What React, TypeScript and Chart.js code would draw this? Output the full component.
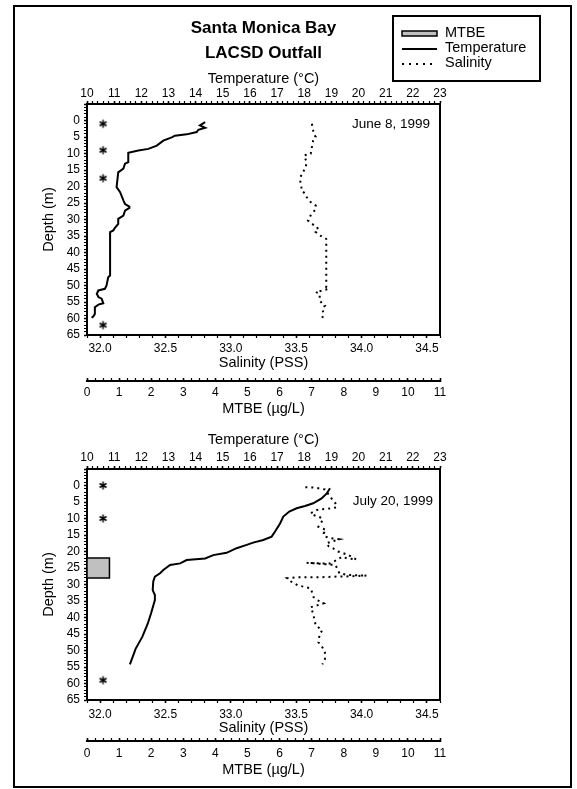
import React, { useEffect, useRef } from 'react';
import { Chart, registerables } from 'chart.js';

Chart.register(...registerables);

const FONT = "'Liberation Sans', Arial, Helvetica, sans-serif";
Chart.defaults.font.family = FONT;
Chart.defaults.color = '#000';

// ---------- axis ranges / tick steps ----------
const temperatureRange = [10, 23];
const salinityRange = [31.9, 34.6];
const mtbeRange = [0, 11];
const depthRange = [-5, 65];

const headerLines = ['Santa Monica Bay', 'LACSD Outfall'];
const legendLabels = ['MTBE', 'Temperature', 'Salinity'];

// ---------- June 8, 1999 ----------
const juneTempDepth = [0.5, 1.5, 2.2, 2.8, 3.5, 4.2, 4.6, 5.1, 6.1, 7.6, 8.6, 9.1, 9.8, 12.6, 13.1, 14.6, 15.7, 20.2, 21.7, 24.2, 25.3, 26.1, 26.5, 27.3, 28.8, 29.8, 31.3, 32.5, 33.3, 33.8, 47.0, 47.5, 50.0, 51.0, 51.5, 52.5, 53.5, 54.0, 55.4, 55.8, 56.6, 58.6, 59.4, 59.8];
const juneTemp = [14.35, 14.16, 14.35, 14.10, 14.04, 13.67, 13.24, 13.12, 12.81, 12.57, 12.26, 11.89, 11.52, 11.52, 11.40, 11.34, 11.15, 11.09, 11.22, 11.34, 11.40, 11.56, 11.56, 11.40, 11.34, 11.15, 11.15, 11.03, 10.97, 10.85, 10.85, 10.78, 10.72, 10.66, 10.42, 10.36, 10.42, 10.54, 10.60, 10.42, 10.29, 10.29, 10.23, 10.17];
const juneSalDepth = [1.0, 3.0, 4.5, 5.0, 5.6, 6.1, 8.1, 8.9, 10.1, 10.6, 11.6, 12.6, 14.6, 16.2, 18.2, 20.2, 21.2, 22.2, 23.2, 24.7, 25.8, 26.8, 27.8, 28.8, 30.3, 31.3, 32.3, 33.3, 33.8, 34.8, 35.9, 50.5, 51.0, 52.0, 52.5, 54.5, 55.6, 56.1, 57.1, 58.6, 59.8];
const juneSal = [33.62, 33.63, 33.64, 33.65, 33.64, 33.63, 33.62, 33.62, 33.61, 33.56, 33.57, 33.58, 33.57, 33.54, 33.53, 33.54, 33.54, 33.57, 33.58, 33.61, 33.65, 33.65, 33.63, 33.61, 33.59, 33.62, 33.66, 33.67, 33.65, 33.68, 33.73, 33.73, 33.75, 33.65, 33.68, 33.68, 33.70, 33.72, 33.70, 33.71, 33.70];
const juneNotDetectedDepth = [1, 9, 17.5, 62];

// ---------- July 20, 1999 ----------
const julyTempDepth = [0.85, 2.4, 3.9, 5.4, 6.2, 6.9, 7.9, 9.4, 11.5, 14.0, 15.5, 16.5, 17.3, 18.0, 19.0, 20.4, 21.1, 22.1, 22.6, 23.6, 24.1, 25.6, 26.6, 27.6, 29.1, 31.7, 33.2, 34.7, 38.7, 41.8, 45.8, 49.5, 54.2];
const julyTemp = [18.95, 18.83, 18.64, 18.33, 18.03, 17.72, 17.45, 17.23, 17.11, 16.92, 16.80, 16.49, 16.12, 15.88, 15.51, 15.14, 14.65, 14.35, 13.67, 13.43, 13.06, 12.81, 12.69, 12.50, 12.44, 12.42, 12.50, 12.50, 12.36, 12.24, 12.04, 11.79, 11.58];
const julySalDepth = [0.5, 0.6, 0.9, 1.2, 3.4, 4.4, 5.4, 6.6, 6.9, 7.2, 7.4, 8.4, 8.9, 9.9, 10.7, 12.5, 13.5, 14.5, 15.5, 16.0, 16.3, 17.5, 18.5, 19.0, 20.0, 20.5, 21.1, 22.4, 22.1, 21.6, 22.6, 23.6, 23.6, 23.4, 24.1, 25.6, 26.6, 27.1, 27.3, 27.6, 27.6, 27.8, 27.8, 28.1, 29.1, 30.2, 30.7, 31.2, 32.2, 33.7, 34.7, 35.7, 36.9, 38.8, 40.8, 42.4, 43.9, 44.9, 47.5, 49.0, 50.6, 52.6, 54.2];
const julySal = [33.57, 33.63, 33.68, 33.72, 33.76, 33.78, 33.80, 33.81, 33.77, 33.70, 33.66, 33.61, 33.63, 33.70, 33.70, 33.67, 33.73, 33.71, 33.72, 33.77, 33.83, 33.73, 33.75, 33.78, 33.82, 33.86, 33.90, 33.96, 33.89, 33.85, 33.81, 33.76, 33.68, 33.58, 33.80, 33.82, 33.83, 33.89, 34.04, 33.86, 33.81, 33.68, 33.51, 33.43, 33.46, 33.51, 33.56, 33.61, 33.62, 33.63, 33.66, 33.71, 33.61, 33.63, 33.64, 33.65, 33.70, 33.68, 33.67, 33.70, 33.72, 33.72, 33.70];
const julyNotDetectedDepth = [0, 10, 59];
const julyMtbeDepthTop = 22;
const julyMtbeDepthBottom = 28;
const julyMtbeValue = 0.7;

const notDetectedMarkerValue = 0.5; // MTBE axis position of "not detected" asterisks

const MTBE_FILL = '#c0c0c0';

function isMultiple(v: number, step: number) {
  const r = v / step;
  return Math.abs(r - Math.round(r)) < 1e-6;
}

function zip(xs: number[], ys: number[]) {
  return xs.map((x, i) => ({ x, y: ys[i] }));
}

function makeAsterisk() {
  const c = document.createElement('canvas');
  c.width = 11;
  c.height = 11;
  const g = c.getContext('2d')!;
  g.strokeStyle = '#000';
  g.lineWidth = 1.5;
  const cx = 5.5, cy = 5.5, r = 4;
  for (let i = 0; i < 3; i++) {
    const a = Math.PI / 2 + (i * Math.PI) / 3;
    g.beginPath();
    g.moveTo(cx + r * Math.cos(a), cy + r * Math.sin(a));
    g.lineTo(cx - r * Math.cos(a), cy - r * Math.sin(a));
    g.stroke();
  }
  return c;
}

type Layout = {
  height: number;
  top: number;
  xTHeight: number;
  xTTitlePadTop: number;
  xTTickPad: number;
  xSHeight: number;
  xSTickPad: number;
  xSTitlePadBottom: number;
  xMHeight: number;
  xMTickPad: number;
  xMTitlePadBottom: number;
};

type PanelSpec = {
  tempDepth: number[];
  temp: number[];
  salDepth: number[];
  sal: number[];
  ndDepth: number[];
  mtbe?: { top: number; bottom: number; value: number };
  date: string;
  dateTemp: number;
  dateDepth: number;
  header: boolean;
  layout: Layout;
};

const TICK_FONT = { size: 12 };
const TITLE_FONT = { size: 14.5 };

function gridFor(step: number, tickLength = 3) {
  return {
    display: true,
    drawOnChartArea: false,
    drawTicks: true,
    tickLength,
    tickColor: '#000',
    tickWidth: (ctx: any) => (ctx.tick && isMultiple(ctx.tick.value, step) ? 1.6 : 1.2),
  };
}
const BORDER = { display: true, color: '#000', width: 2 };

function buildConfig(spec: PanelSpec, asterisk: HTMLCanvasElement) {
  const L = spec.layout;
  const datasets: any[] = [
    {
      label: 'Temperature',
      data: zip(spec.temp, spec.tempDepth),
      xAxisID: 'xT',
      yAxisID: 'y',
      showLine: true,
      borderColor: '#000',
      borderWidth: 2,
      pointRadius: 0,
      fill: false,
    },
    {
      label: 'Salinity',
      data: zip(spec.sal, spec.salDepth),
      xAxisID: 'xS',
      yAxisID: 'y',
      showLine: true,
      borderColor: '#000',
      borderWidth: 2,
      borderDash: [2, 4],
      pointRadius: 0,
      fill: false,
    },
  ];
  if (spec.mtbe) {
    const m = spec.mtbe;
    datasets.push({
      label: 'MTBE',
      data: [
        { x: mtbeRange[0], y: m.top },
        { x: m.value, y: m.top },
        { x: m.value, y: m.bottom },
        { x: mtbeRange[0], y: m.bottom },
        { x: mtbeRange[0], y: m.top },
      ],
      xAxisID: 'xM',
      yAxisID: 'y',
      showLine: true,
      borderColor: '#000',
      borderWidth: 1.5,
      backgroundColor: MTBE_FILL,
      fill: 'shape',
      pointRadius: 0,
      clip: 3,
    });
  }
  datasets.push({
    label: 'not detected',
    data: spec.ndDepth.map((d) => ({ x: notDetectedMarkerValue, y: d })),
    xAxisID: 'xM',
    yAxisID: 'y',
    showLine: false,
    pointStyle: asterisk,
    pointRadius: 5,
    clip: 8,
  });

  const datePlugin = {
    id: 'dateLabel',
    afterDatasetsDraw(chart: any) {
      const { ctx, scales } = chart;
      const x = scales.xT.getPixelForValue(spec.dateTemp);
      const y = scales.y.getPixelForValue(spec.dateDepth);
      ctx.save();
      ctx.font = `13.5px ${FONT}`;
      ctx.fillStyle = '#000';
      ctx.textAlign = 'right';
      ctx.textBaseline = 'middle';
      ctx.fillText(spec.date, x, y);
      ctx.restore();
    },
  };

  const legendPlugin = {
    id: 'boxLegend',
    afterDraw(chart: any) {
      if (!spec.header) return;
      const ctx = chart.ctx;
      ctx.save();
      ctx.strokeStyle = '#000';
      ctx.lineWidth = 2;
      ctx.strokeRect(393, 16, 147, 65);
      // MTBE swatch
      ctx.fillStyle = MTBE_FILL;
      ctx.fillRect(402, 31, 35, 5);
      ctx.lineWidth = 1.5;
      ctx.strokeRect(402, 31, 35, 5);
      // temperature swatch
      ctx.lineWidth = 2;
      ctx.beginPath();
      ctx.moveTo(402, 49);
      ctx.lineTo(437, 49);
      ctx.stroke();
      // salinity swatch
      ctx.setLineDash([2, 5]);
      ctx.beginPath();
      ctx.moveTo(402, 64);
      ctx.lineTo(437, 64);
      ctx.stroke();
      ctx.setLineDash([]);
      ctx.font = `14.5px ${FONT}`;
      ctx.fillStyle = '#000';
      ctx.textAlign = 'left';
      ctx.textBaseline = 'middle';
      ctx.fillText(legendLabels[0], 445, 33);
      ctx.fillText(legendLabels[1], 445, 48);
      ctx.fillText(legendLabels[2], 445, 63);
      ctx.restore();
    },
  };

  return {
    type: 'scatter',
    data: { datasets },
    plugins: [datePlugin, legendPlugin],
    options: {
      animation: false,
      responsive: false,
      devicePixelRatio: 1,
      events: [],
      layout: { padding: { left: 0, right: 137, top: 0, bottom: 0 } },
      plugins: {
        legend: { display: false },
        tooltip: { enabled: false },
        title: {
          display: spec.header,
          text: headerLines,
          fullSize: false,
          color: '#000',
          font: { size: 17, weight: 'bold', lineHeight: 25 / 17 },
          padding: { top: 15.5, bottom: 0 },
        },
      },
      scales: {
        y: {
          type: 'linear',
          position: 'left',
          reverse: true,
          min: depthRange[0],
          max: depthRange[1],
          afterFit: (s: any) => {
            s.width = 87;
          },
          ticks: {
            stepSize: 1,
            autoSkip: false,
            maxTicksLimit: 1000,
            padding: 4,
            font: TICK_FONT,
            color: '#000',
            callback: (v: number) => (v >= 0 && isMultiple(v, 5) ? String(Math.round(v)) : ''),
          },
          grid: gridFor(5),
          border: BORDER,
          title: { display: true, text: 'Depth (m)', font: TITLE_FONT, color: '#000', padding: { top: 40.3, bottom: 0 } },
        },
        yR: {
          type: 'linear',
          position: 'right',
          display: true,
          min: 0,
          max: 1,
          afterFit: (s: any) => {
            s.width = 0;
          },
          ticks: { display: false },
          grid: { display: true, drawOnChartArea: false, drawTicks: false },
          border: BORDER,
        },
        xT: {
          type: 'linear',
          position: 'top',
          min: temperatureRange[0],
          max: temperatureRange[1],
          afterFit: (s: any) => {
            s.height = L.xTHeight;
          },
          ticks: {
            stepSize: 0.2,
            autoSkip: false,
            maxTicksLimit: 1000,
            maxRotation: 0,
            minRotation: 0,
            padding: L.xTTickPad,
            font: TICK_FONT,
            color: '#000',
            callback: (v: number) => (isMultiple(v, 1) ? String(Math.round(v)) : ''),
          },
          grid: gridFor(1),
          border: BORDER,
          title: { display: true, text: 'Temperature (°C)', font: TITLE_FONT, color: '#000', padding: { top: L.xTTitlePadTop, bottom: 0 } },
        },
        xS: {
          type: 'linear',
          position: 'bottom',
          weight: 0,
          min: salinityRange[0],
          max: salinityRange[1],
          afterFit: (s: any) => {
            s.height = L.xSHeight;
          },
          ticks: {
            stepSize: 0.1,
            autoSkip: false,
            maxTicksLimit: 1000,
            maxRotation: 0,
            minRotation: 0,
            padding: L.xSTickPad,
            font: TICK_FONT,
            color: '#000',
            callback: (v: number) => (isMultiple(v, 0.5) ? v.toFixed(1) : ''),
          },
          grid: gridFor(0.5),
          border: BORDER,
          title: { display: true, text: 'Salinity (PSS)', font: TITLE_FONT, color: '#000', padding: { top: 0, bottom: L.xSTitlePadBottom } },
        },
        xM: {
          type: 'linear',
          position: 'bottom',
          weight: 1,
          min: mtbeRange[0],
          max: mtbeRange[1],
          afterFit: (s: any) => {
            s.height = L.xMHeight;
          },
          ticks: {
            stepSize: 0.25,
            autoSkip: false,
            maxTicksLimit: 1000,
            maxRotation: 0,
            minRotation: 0,
            padding: L.xMTickPad + 6,
            font: TICK_FONT,
            color: '#000',
            callback: (v: number) => (isMultiple(v, 1) ? String(Math.round(v)) : ''),
          },
          // ruler-style axis: tick marks stand up from the line
          grid: gridFor(1, -3),
          border: BORDER,
          title: { display: true, text: 'MTBE (µg/L)', font: TITLE_FONT, color: '#000', padding: { top: 0, bottom: L.xMTitlePadBottom } },
        },
      },
    },
  };
}

const panelJune: PanelSpec = {
  tempDepth: juneTempDepth,
  temp: juneTemp,
  salDepth: juneSalDepth,
  sal: juneSal,
  ndDepth: juneNotDetectedDepth,
  date: 'June 8, 1999',
  dateTemp: 22.63,
  dateDepth: 1.0,
  header: true,
  layout: {
    height: 430,
    top: 0,
    xTHeight: 38.5,
    xTTitlePadTop: 5.1,
    xTTickPad: 0,
    xSHeight: 46,
    xSTickPad: 3.3,
    xSTitlePadBottom: 9.1,
    xMHeight: 49,
    xMTickPad: 1.8,
    xMTitlePadBottom: 12.6,
  },
};

const panelJuly: PanelSpec = {
  tempDepth: julyTempDepth,
  temp: julyTemp,
  salDepth: julySalDepth,
  sal: julySal,
  ndDepth: julyNotDetectedDepth,
  mtbe: { top: julyMtbeDepthTop, bottom: julyMtbeDepthBottom, value: julyMtbeValue },
  date: 'July 20, 1999',
  dateTemp: 22.74,
  dateDepth: 4.9,
  header: false,
  layout: {
    height: 359,
    top: 430,
    xTHeight: 39,
    xTTitlePadTop: 1.6,
    xTTickPad: 0.8,
    xSHeight: 41,
    xSTickPad: 4.8,
    xSTitlePadBottom: 4.6,
    xMHeight: 48,
    xMTickPad: 2.3,
    xMTitlePadBottom: 10.6,
  },
};

function Panel({ spec }: { spec: PanelSpec }) {
  const ref = useRef<HTMLCanvasElement>(null);
  useEffect(() => {
    const chart = new Chart(ref.current as HTMLCanvasElement, buildConfig(spec, makeAsterisk()) as any);
    return () => chart.destroy();
  }, [spec]);
  return (
    <canvas
      ref={ref}
      width={577}
      height={spec.layout.height}
      style={{ position: 'absolute', left: 0, top: spec.layout.top, width: 577, height: spec.layout.height }}
    />
  );
}

export default function App() {
  return (
    <div style={{ position: 'absolute', left: 0, top: 0, width: 577, height: 789, background: '#fff', overflow: 'hidden' }}>
      <div
        style={{
          position: 'absolute',
          left: 13,
          top: 5,
          width: 555,
          height: 779,
          border: '2px solid #000',
        }}
      />
      <Panel spec={panelJune} />
      <Panel spec={panelJuly} />
    </div>
  );
}
